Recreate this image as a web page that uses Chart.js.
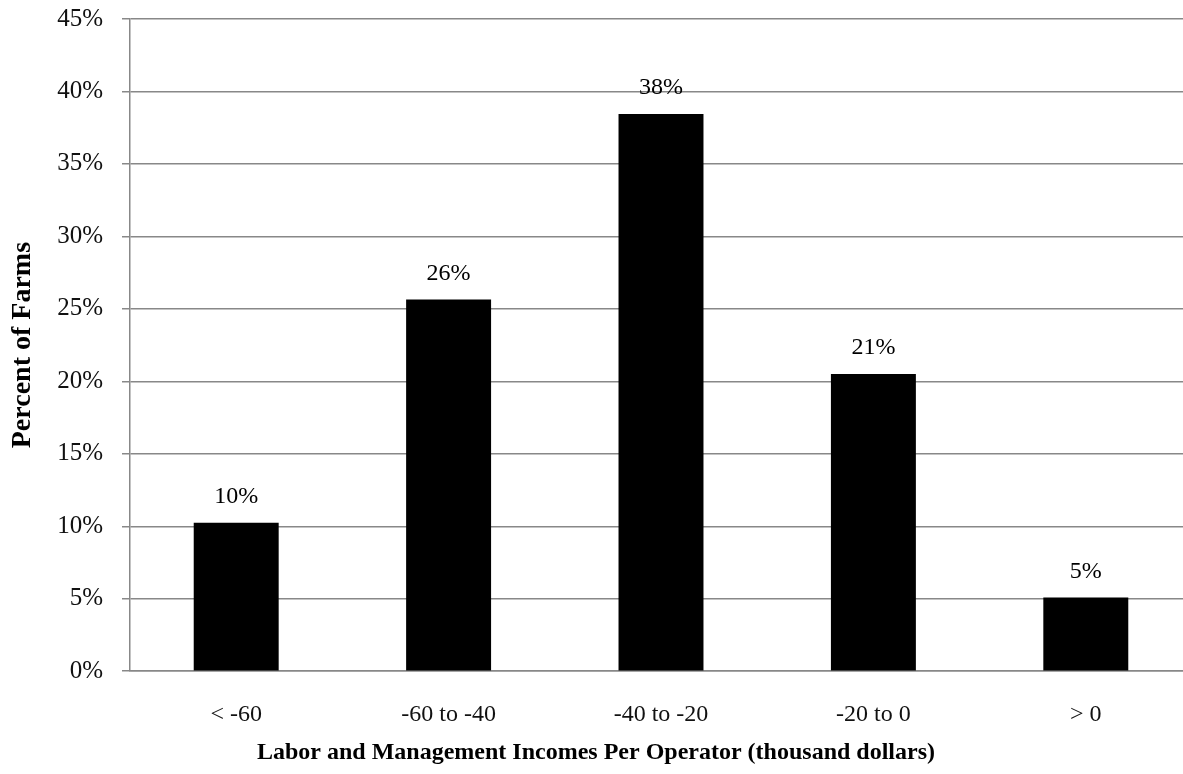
<!DOCTYPE html>
<html>
<head>
<meta charset="utf-8">
<title>Labor and Management Incomes Per Operator</title>
<script src="https://cdn.jsdelivr.net/npm/chart.js@4.4.1/dist/chart.umd.min.js"></script>
<style>
  html, body { margin: 0; padding: 0; background: #fff; overflow: hidden; }
  #wrap { width: 1192px; height: 774px; position: relative; }
</style>
</head>
<body>
<div id="wrap"><canvas id="chart"></canvas></div>
<script>
// Income brackets (thousand dollars) and share of farms in each
const categories = ['< -60', '-60 to -40', '-40 to -20', '-20 to 0', '> 0'];
const percentOfFarms = [10.24, 25.65, 38.45, 20.5, 5.09];
const yTickValues = [0, 5, 10, 15, 20, 25, 30, 35, 40, 45];

const serif = '"Liberation Serif", "Times New Roman", serif';

// Percent label above each bar, from the bar's own value
const barValueLabels = {
  id: 'barValueLabels',
  afterDatasetsDraw(chart) {
    const ctx = chart.ctx;
    const meta = chart.getDatasetMeta(0);
    ctx.save();
    ctx.font = '24px ' + serif;
    ctx.fillStyle = '#000';
    ctx.textAlign = 'center';
    ctx.textBaseline = 'middle';
    meta.data.forEach((bar, i) => {
      const v = chart.data.datasets[0].data[i];
      ctx.fillText(Math.round(v) + '%', bar.x, bar.y - 26);
    });
    ctx.restore();
  }
};

new Chart(document.getElementById('chart'), {
  type: 'bar',
  data: {
    labels: categories,
    datasets: [{
      data: percentOfFarms,
      backgroundColor: '#000',
      borderWidth: 0,
      barPercentage: 0.4,
      categoryPercentage: 1.0
    }]
  },
  options: {
    responsive: true,
    maintainAspectRatio: false,
    animation: false,
    devicePixelRatio: 1,
    layout: { padding: { top: 19, right: 0, bottom: 0, left: 0 } },
    plugins: {
      legend: { display: false },
      tooltip: { enabled: false },
      title: {
        display: true,
        position: 'bottom',
        text: 'Labor and Management Incomes Per Operator (thousand dollars)',
        color: '#000',
        font: { family: serif, size: 24, weight: 'bold' },
        padding: { top: 0, bottom: 7 }
      }
    },
    scales: {
      x: {
        grid: { display: false, drawTicks: false },
        border: { display: true, color: '#888', width: 1.5 },
        ticks: {
          color: '#111',
          font: { family: serif, size: 24 },
          padding: 29,
          maxRotation: 0
        },
        afterFit(scale) { scale.height = 67; }
      },
      y: {
        min: 0,
        max: 45,
        afterBuildTicks(scale) {
          scale.ticks = yTickValues.map(v => ({ value: v }));
        },
        grid: { color: '#888', lineWidth: 1.5, tickLength: 8, drawTicks: true },
        border: { display: true, color: '#888', width: 1.5 },
        ticks: {
          color: '#111',
          font: { family: serif, size: 25 },
          padding: 19,
          callback: v => v + '%'
        },
        title: {
          display: true,
          text: 'Percent of Farms',
          color: '#000',
          font: { family: serif, size: 28, weight: 'bold' },
          padding: { top: 6, bottom: 0 }
        },
        afterFit(scale) {
          scale.width = 130;
          scale.paddingTop = 0;
          scale.paddingBottom = 0;
        }
      }
    }
  },
  plugins: [barValueLabels]
});
</script>
</body>
</html>
